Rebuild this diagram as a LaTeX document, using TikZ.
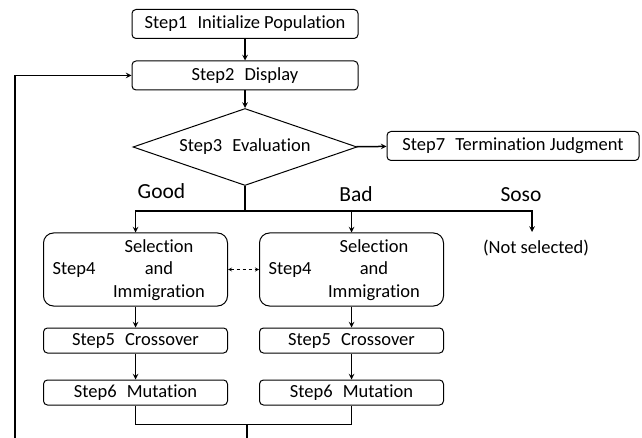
\documentclass[tikz,border=0pt]{standalone}
\usepackage{fontspec}
\setmainfont{Carlito}[Ligatures=NoCommon]
\usetikzlibrary{shapes.geometric}
\begin{document}
\begin{tikzpicture}[x=1pt, y=-1pt, >=stealth, font=\fontsize{18.5}{22.5}\selectfont,
  stepbox/.style={draw, rounded corners=4pt, line width=1pt, inner sep=0pt, minimum height=29pt},
  bigbox/.style={draw, rounded corners=10pt, line width=1pt, minimum width=184pt, minimum height=73pt},
  smallbox/.style={stepbox, minimum width=184pt, minimum height=25pt},
  branchlabel/.style={font=\fontsize{21.5}{24}\selectfont},
  flow/.style={->, line width=1.5pt},
  link/.style={line width=1.5pt}]
\useasboundingbox (0,0) rectangle (642,438);
\clip (0,0) rectangle (642,438);
\node[stepbox, minimum width=226pt] (s1) at (245,24) {Step1\hspace{0.55em}Initialize Population};
\node[stepbox, minimum width=226pt] (s2) at (245,75.5) {Step2\hspace{0.55em}Display};
\node[draw, diamond, aspect=3, line width=1pt, inner sep=0pt, minimum width=224pt, minimum height=77pt] (s3) at (245,147) {Step3\hspace{0.55em}Evaluation};
\node[stepbox, minimum width=252pt, minimum height=29pt] (s7) at (513,146) {Step7\hspace{0.55em}Termination Judgment};
% branches
\coordinate (fork) at (245,211);
\node[branchlabel] (good) at (161.5,191) {Good};
\node[branchlabel] (bad) at (356,194) {Bad};
\node[branchlabel] (soso) at (521,195) {Soso};
\node (nots) at (536,248) {(Not selected)};
\coordinate (sosoend) at (532,232);
% good side
\node[bigbox] (s4a) at (135.5,269.5) {};
\node (s4atag) at (74,270) {Step4};
\node[align=center] (s4atxt) at (159,270) {Selection\\and\\Immigration};
\node[smallbox] (s5a) at (135.5,340.5) {Step5\hspace{0.55em}Crossover};
\node[smallbox] (s6a) at (135.5,392.5) {Step6\hspace{0.55em}Mutation};
% bad side
\node[bigbox] (s4b) at (351.5,269.5) {};
\node (s4btag) at (290,270) {Step4};
\node[align=center] (s4btxt) at (374,270) {Selection\\and\\Immigration};
\node[smallbox] (s5b) at (351.5,340.5) {Step5\hspace{0.55em}Crossover};
\node[smallbox] (s6b) at (351.5,392.5) {Step6\hspace{0.55em}Mutation};
\coordinate (merge) at (247,424.5);
\coordinate (loop) at (15,445);
\draw[flow] (s1) -- (s2);
\draw[flow] (s2) -- (s3);
\draw[flow] (s3) -- (s7);
\draw[link] (s3.south) -- (fork);
\draw[flow] (fork) -| (s4a.north);
\draw[flow] (fork) -| (s4b.north);
\draw[flow] (fork) -| (sosoend);
\draw[<->, dashed, line width=0.8pt] (s4a) -- (s4b);
\draw[flow] (s4a) -- (s5a);
\draw[flow] (s5a) -- (s6a);
\draw[flow] (s4b) -- (s5b);
\draw[flow] (s5b) -- (s6b);
\draw[link] (s6a.south) -- (s6a.south |- merge) -- (s6b.south |- merge) -- (s6b.south);
\draw[flow] (merge) -- (merge |- loop) -- (loop) |- (s2.west);
\end{tikzpicture}
\end{document}
